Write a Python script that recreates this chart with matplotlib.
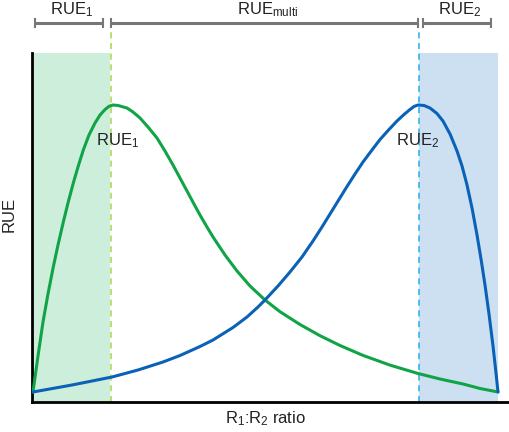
import matplotlib
matplotlib.use("Agg")
import matplotlib.pyplot as plt

plt.rcParams['font.family'] = ['Liberation Sans', 'DejaVu Sans']
plt.rcParams['mathtext.fontset'] = 'custom'
plt.rcParams['mathtext.rm'] = 'Liberation Sans'
plt.rcParams['mathtext.it'] = 'Liberation Sans:italic'

# Data (arbitrary units: R1:R2 ratio 0-100, RUE 0-100)
green_x = [0.21, 1.26, 2.31, 3.36, 4.47, 5.46, 6.58, 7.56, 8.68, 9.66, 10.78,
           11.97, 13.24, 14.29, 15.34, 16.18, 17.02, 18.07, 19.96, 21.22, 22.69,
           24.37, 26.26, 27.94, 29.62, 31.09, 32.56, 34.03, 35.29, 36.76, 38.03,
           40.55, 43.07, 45.80, 48.95, 52.10, 56.30, 60.50, 64.71, 69.54, 75.21,
           81.09, 85.71, 90.55, 94.12, 97.90]
green_y = [2.87, 13.18, 22.92, 30.95, 38.68, 44.99, 51.58, 57.02, 62.75, 67.34, 72.21,
           76.50, 79.94, 82.23, 83.81, 84.73, 85.10, 84.96, 84.24, 83.09, 81.38,
           78.80, 75.64, 71.92, 67.91, 64.18, 60.46, 56.73, 53.58, 50.14, 47.28,
           42.12, 37.54, 33.24, 29.23, 25.87, 22.21, 19.00, 16.19, 13.35, 10.57,
           8.17, 6.59, 5.16, 3.87, 2.87]
blue_x = [0.21, 8.40, 16.81, 22.27, 27.52, 31.09, 35.29, 38.03, 42.23,
          45.17, 47.48, 48.95, 51.68, 54.20, 56.72, 59.03, 60.92, 62.61, 64.29,
          66.18, 67.86, 69.54, 71.43, 73.11, 75.00, 76.68, 78.15, 79.41, 80.25,
          81.09, 82.35, 83.61, 85.08, 86.34, 87.82, 89.29, 90.34, 91.39, 92.44,
          93.49, 94.33, 95.17, 96.01, 96.85, 97.48, 97.90]
blue_y = [2.87, 4.87, 7.16, 9.17, 11.46, 13.32, 15.90, 17.77, 21.35,
          24.36, 27.22, 29.23, 33.24, 37.25, 41.55, 46.13, 50.14, 53.87, 57.59,
          61.75, 65.33, 68.77, 72.21, 75.21, 78.08, 80.52, 82.38, 83.81, 84.67,
          85.10, 84.96, 84.24, 82.66, 80.52, 76.79, 71.92, 67.62, 62.18, 55.59,
          47.85, 40.97, 33.52, 25.21, 16.05, 8.31, 2.87]

zone1 = (0.2, 16.4)
zone2 = (81.3, 97.9)
opt1 = 16.6
opt2 = 81.2
brackets = [(0.63, 14.9, "RUE$_1$"), (16.6, 81.1, "RUE$_{\\mathrm{multi}}$"), (82.1, 96.4, "RUE$_2$")]

fig = plt.figure(figsize=(5.1, 4.32), dpi=100)
ax = fig.add_axes([32/510, 30/432, 476/510, 349/432])
ax.set_xlim(0, 100)
ax.set_ylim(0, 100)

ax.axvspan(zone1[0], zone1[1], ymin=0, ymax=1, color='#cdeedb', lw=0, zorder=0)
ax.axvspan(zone2[0], zone2[1], ymin=0, ymax=1, color='#cce0f2', lw=0, zorder=0)

ax.plot([opt1, opt1], [0, 106.6], ls=(0, (4, 3)), color='#a5d64a', lw=1.1, clip_on=False, zorder=1)
ax.plot([opt2, opt2], [0, 106.6], ls=(0, (4, 3)), color='#22b0e6', lw=1.1, clip_on=False, zorder=1)

ax.plot(green_x, green_y, color='#10a447', lw=2.2, solid_capstyle='round',
        solid_joinstyle='round', zorder=3)
ax.plot(blue_x, blue_y, color='#0a62b7', lw=2.2, solid_capstyle='round',
        solid_joinstyle='round', zorder=3)

gray = '#777777'
for x0, x1, lab in brackets:
    ax.plot([x0, x1], [108.6, 108.6], color=gray, lw=2.2, clip_on=False, solid_capstyle='butt')
    for xe in (x0, x1):
        ax.plot([xe, xe], [107.4, 109.8], color=gray, lw=1.5, clip_on=False)
    ax.text((x0 + x1) / 2 + 0.6, 112.3, lab, ha='center', va='center', fontsize=12, color='#222222')

ax.text(17.9, 74.8, "RUE$_1$", ha='center', va='center', fontsize=12, color='#222222', zorder=4)
ax.text(81.1, 74.8, "RUE$_2$", ha='center', va='center', fontsize=12, color='#222222', zorder=4)

for s in ('top', 'right'):
    ax.spines[s].set_visible(False)
for s in ('left', 'bottom'):
    ax.spines[s].set_linewidth(2)
    ax.spines[s].set_color('black')
ax.set_xticks([])
ax.set_yticks([])

fig.text(9.5/510, 1 - 214/432, "RUE", rotation=90, ha='center', va='center', fontsize=12, color='#222222')
fig.text(265/510, 1 - 419/432, "R$_1$:R$_2$ ratio", ha='center', va='center', fontsize=12, color='#222222')

fig.savefig("out.png", dpi=100)
